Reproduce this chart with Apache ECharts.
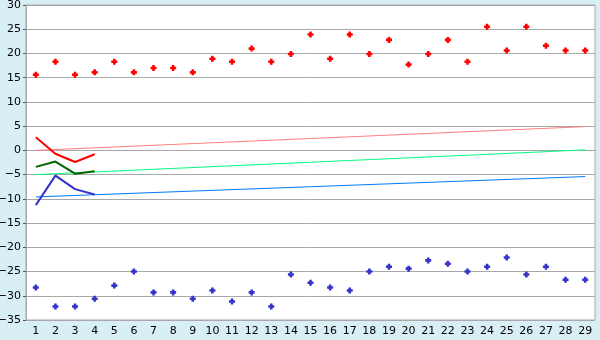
<!DOCTYPE html>
<html><head><meta charset="utf-8">
<script src="https://cdn.jsdelivr.net/npm/echarts@6/dist/echarts.min.js"></script>
<style>html,body{margin:0;padding:0;background:#d9eff6}#c{width:600px;height:340px}</style>
</head><body><div id="c"></div>
<script>
var categories = ['1','2','3','4','5','6','7','8','9','10','11','12','13','14','15','16','17','18','19','20','21','22','23','24','25','26','27','28','29'];
var redPoints = [15.6,18.3,15.6,16.1,18.3,16.1,17.0,17.0,16.1,18.9,18.3,21.0,18.3,19.9,23.9,18.9,23.9,19.9,22.8,17.7,19.9,22.8,18.3,25.5,20.6,25.5,21.6,20.6,20.6];
var bluePoints = [-28.3,-32.2,-32.2,-30.6,-27.9,-25.0,-29.3,-29.3,-30.6,-28.9,-31.2,-29.3,-32.2,-25.6,-27.3,-28.3,-28.9,-25.0,-24.0,-24.4,-22.7,-23.4,-25.0,-24.0,-22.1,-25.6,-24.0,-26.7,-26.7];
var redLine = [2.7,-0.7,-2.4,-0.8];
var greenLine = [-3.4,-2.3,-4.8,-4.3];
var blueLine = [-11.3,-5.2,-8.0,-9.1];
var pinkTrend = [[0,0.0],[28,4.9]];
var greenTrend = [[0,-5.0],[28,0.1]];
var blueTrend = [[0,-9.6],[28,-5.4]];

var plus = 'path://M2 0h3v2h2v3h-2v2h-3v-2h-2v-3h2z';
var chart = echarts.init(document.getElementById('c'));
var font = 'DejaVu Sans';
chart.setOption({
  backgroundColor: '#d9eff6',
  animation: false,
  grid: {left: 26, right: 5, top: 5, bottom: 20, containLabel: false, outerBoundsMode: 'none',
         show: true, backgroundColor: '#ffffff', borderColor: '#a8a8a8', borderWidth: 1},
  xAxis: {
    type: 'category', data: categories, boundaryGap: true,
    axisLine: {lineStyle: {color: '#a8a8a8'}},
    axisTick: {alignWithLabel: true, length: 5, lineStyle: {color: '#555'}},
    axisLabel: {color: '#000', fontFamily: font, fontSize: 11, margin: 6, interval: 0},
    splitLine: {show: false}
  },
  yAxis: {
    type: 'value', min: -35, max: 30, interval: 5,
    axisLine: {show: true, lineStyle: {color: '#a8a8a8'}},
    axisTick: {show: true, length: 3, lineStyle: {color: '#555'}},
    axisLabel: {color: '#000', fontFamily: font, fontSize: 11, margin: 5,
      formatter: function (v) { return String(v).replace('-', '\u2212'); }},
    splitLine: {lineStyle: {color: '#a8a8a8', width: 1}}
  },
  series: [
    {type: 'line', data: pinkTrend, symbol: 'none', lineStyle: {color: '#ff8080', width: 1}, z: 2},
    {type: 'line', data: greenTrend, symbol: 'none', lineStyle: {color: '#00ff80', width: 1}, z: 2},
    {type: 'line', data: blueTrend, symbol: 'none', lineStyle: {color: '#0078ff', width: 1}, z: 2},
    {type: 'line', data: redLine, symbol: 'none', lineStyle: {color: '#ff0000', width: 2}, z: 3},
    {type: 'line', data: greenLine, symbol: 'none', lineStyle: {color: '#006400', width: 2}, z: 3},
    {type: 'line', data: blueLine, symbol: 'none', lineStyle: {color: '#3333cc', width: 2}, z: 3},
    {type: 'scatter', data: redPoints, symbol: plus, symbolSize: 6, itemStyle: {color: '#ff0000', opacity: 1}, z: 4},
    {type: 'scatter', data: bluePoints, symbol: plus, symbolSize: 6, itemStyle: {color: '#3333cc', opacity: 1}, z: 4}
  ]
});
</script></body></html>
